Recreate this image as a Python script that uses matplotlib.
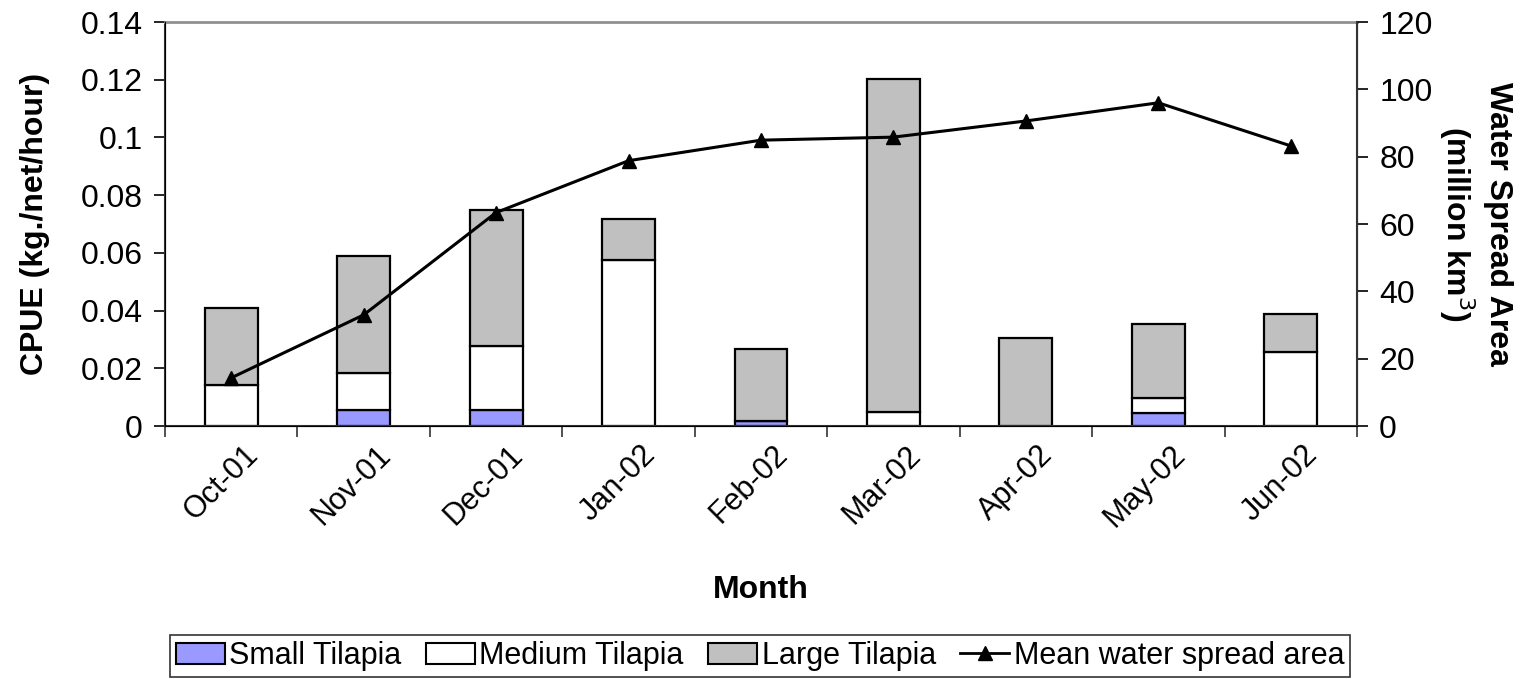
"""CPUE of tilapia size classes against mean water spread area."""

import matplotlib
import numpy as np

matplotlib.use("Agg", force=True)
import matplotlib.pyplot as plt
from matplotlib.lines import Line2D
from matplotlib.patches import Patch
from matplotlib.transforms import ScaledTranslation

plt.rcParams["font.family"] = ["Liberation Sans", "DejaVu Sans"]

months = ["Oct-01", "Nov-01", "Dec-01", "Jan-02", "Feb-02", "Mar-02", "Apr-02", "May-02", "Jun-02"]
small = [0.0, 0.0057, 0.0055, 0.0, 0.0017, 0.0, 0.0, 0.0045, 0.0]
medium = [0.0142, 0.0128, 0.0222, 0.0575, 0.0, 0.0049, 0.0, 0.0052, 0.0256]
large = [0.0267, 0.0404, 0.0471, 0.0142, 0.0250, 0.1153, 0.0305, 0.0256, 0.0132]
water_area = [14.3, 33.0, 63.4, 78.8, 84.9, 85.8, 90.6, 96.0, 83.2]

SMALL_C = "#9999FF"
LARGE_C = "#C0C0C0"
FS = 23

fig = plt.figure(figsize=(15.26, 6.79), dpi=100)
ax = fig.add_axes([165 / 1526, 1 - 426 / 679, (1357 - 165) / 1526, (426 - 22) / 679])

x = np.arange(len(months))
small = np.array(small)
medium = np.array(medium)
large = np.array(large)
bar_kw = dict(width=0.4, edgecolor="black", linewidth=1.6, zorder=2)
ax.bar(x, small, color=SMALL_C, **bar_kw)
ax.bar(x, medium, bottom=small, color="white", **bar_kw)
ax.bar(x, large, bottom=small + medium, color=LARGE_C, **bar_kw)

ax.set_xlim(-0.5, len(months) - 0.5)
ax.set_ylim(0, 0.14)
ax.set_yticks(np.arange(0, 0.141, 0.02))
ax.set_yticklabels(["0", "0.02", "0.04", "0.06", "0.08", "0.1", "0.12", "0.14"])
ax.set_xticks(x)
ax.set_xticklabels(months, rotation=45, ha="right", rotation_mode="anchor")
ax.set_xticks(np.arange(-0.5, len(months)), minor=True)
ax.tick_params(axis="x", which="major", length=0, pad=10, labelsize=FS - 1)
ax.tick_params(axis="x", which="minor", length=8, width=1.2, color="#333333")
ax.tick_params(axis="y", length=8, width=1.2, labelsize=FS, pad=8)
# nudge month labels a little right, like the original
shift = ScaledTranslation(12 / 100, 0, fig.dpi_scale_trans)
for lab in ax.get_xticklabels():
    lab.set_transform(lab.get_transform() + shift)
ax.set_ylabel("CPUE (kg./net/hour)", fontsize=FS, fontweight="bold", labelpad=22)
ax.set_xlabel("Month", fontsize=FS, fontweight="bold", labelpad=30)

for side in ["left", "bottom"]:
    ax.spines[side].set_linewidth(1.5)
    ax.spines[side].set_color("#333333")
ax.spines["top"].set_color("#909090")
ax.spines["top"].set_linewidth(2)

ax2 = ax.twinx()
ax2.plot(x, water_area, color="black", linewidth=2.2, marker="^", markersize=10, zorder=3)
ax2.set_ylim(0, 120)
ax2.set_yticks(np.arange(0, 121, 20))
ax2.tick_params(axis="y", length=8, width=1.2, labelsize=FS, pad=8)
ax2.spines["right"].set_linewidth(1.5)
ax2.spines["right"].set_color("#333333")
ax2.spines["top"].set_visible(False)
ax2.set_ylabel("Water Spread Area\n(million km$^3$)", fontsize=FS, fontweight="bold",
               rotation=-90, labelpad=58, linespacing=1.2)

handles = [
    Patch(facecolor=SMALL_C, edgecolor="black", linewidth=1.5),
    Patch(facecolor="white", edgecolor="black", linewidth=1.5),
    Patch(facecolor=LARGE_C, edgecolor="black", linewidth=1.5),
    Line2D([], [], color="black", linewidth=2, marker="^", markersize=10),
]
labels = ["Small Tilapia", "Medium Tilapia", "Large Tilapia", "Mean water spread area"]
leg = fig.legend(handles, labels, loc="center", bbox_to_anchor=(760 / 1526, 1 - 656 / 679),
                 ncol=4, fontsize=FS - 1, frameon=True, fancybox=False, edgecolor="black",
                 handlelength=1.6, handletextpad=0.15, columnspacing=0.8, borderpad=0.2)
leg.get_frame().set_linewidth(1.2)

fig.savefig("out.png", dpi=100)
plt.close(fig)
